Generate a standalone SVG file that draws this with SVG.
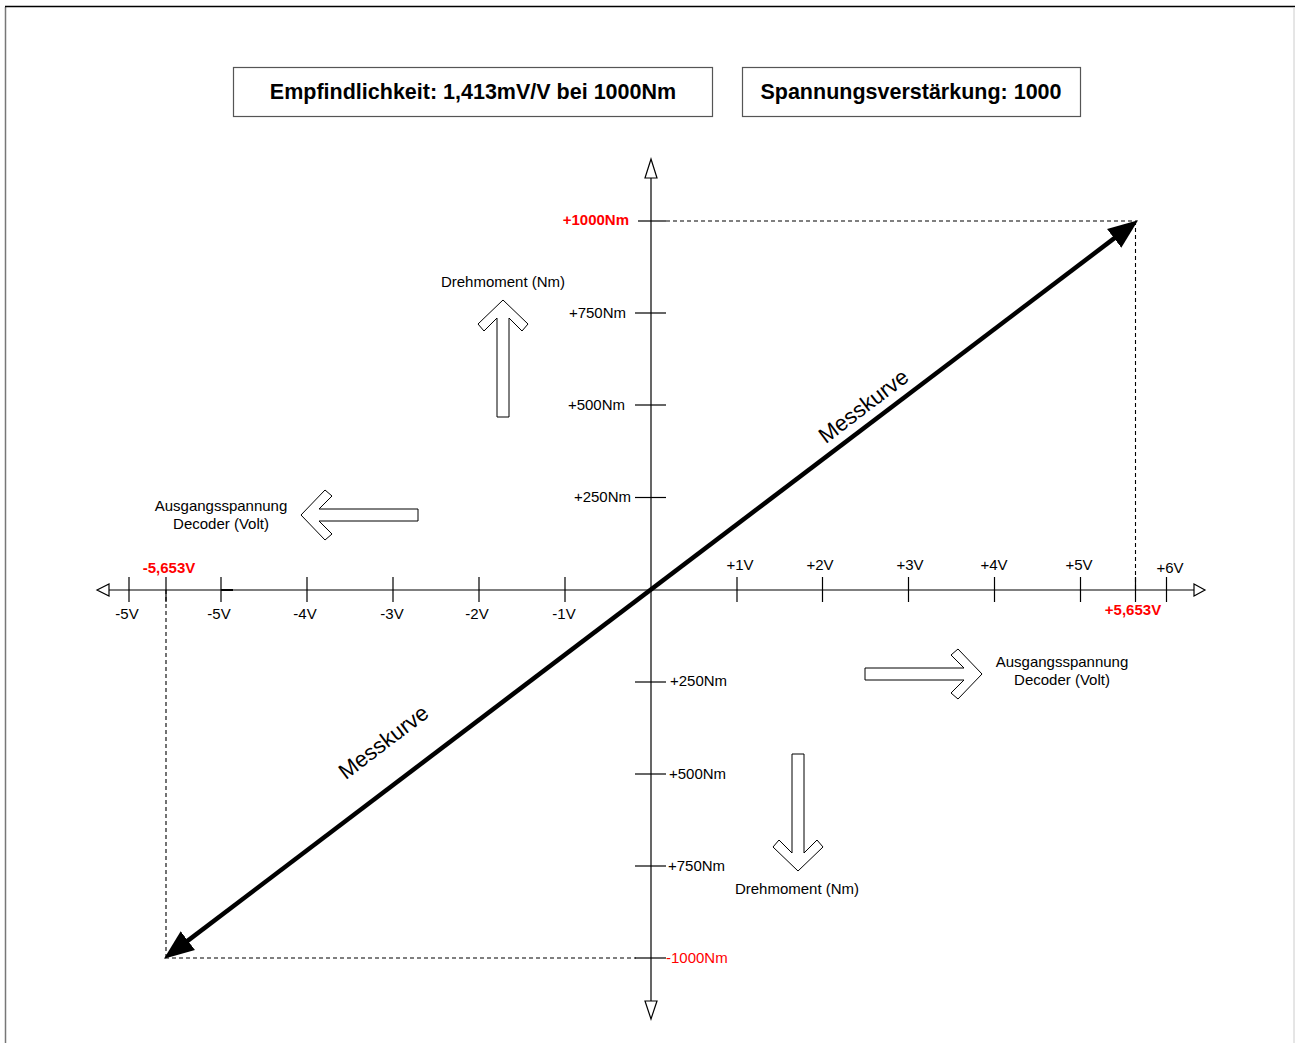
<svg xmlns="http://www.w3.org/2000/svg" width="1295" height="1043" viewBox="0 0 1295 1043">
<style>
text{font-family:"Liberation Sans",Arial,sans-serif;font-size:15px;fill:#000}
.b{font-weight:bold}
.red{fill:#ff0000}
.t{font-size:21.5px;font-weight:bold}
.mk{font-size:22px}
.ax{stroke:#000;stroke-width:1.2;fill:none}
.tk{stroke:#000;stroke-width:1.2}
.dash{stroke:#000;stroke-width:1.1;stroke-dasharray:4,3;fill:none}
.box{fill:#fff;stroke:#555;stroke-width:1.2}
.blk{fill:#fff;stroke:#000;stroke-width:1}
.oh{fill:#fff;stroke:#000;stroke-width:1.2}
</style>
<defs>
<path id="blockArrow" d="M0,0 L25,24 L19,31 L6,18 L6,117 L-6,117 L-6,18 L-19,31 L-25,24 Z"/>
<marker id="fh" markerUnits="userSpaceOnUse" markerWidth="30" markerHeight="24" viewBox="0 0 28 22" refX="10" refY="11" orient="auto-start-reverse">
<path d="M0,0 L28,11 L0,22 Z" fill="#000"/>
</marker>
</defs>
<rect x="0" y="0" width="1295" height="1043" fill="#fff"/>
<g id="frame">
<line x1="5.5" y1="7" x2="5.5" y2="1043" stroke="#777" stroke-width="1.5"/>
<line x1="5" y1="6.5" x2="1295" y2="6.5" stroke="#000" stroke-width="1.5"/>
<line x1="1294" y1="7" x2="1294" y2="1043" stroke="#ccc" stroke-width="1"/>
</g>
<g id="box-empfindlichkeit">
<rect class="box" x="233.5" y="67.5" width="479" height="49"/>
<text class="t" x="473" y="99" text-anchor="middle">Empfindlichkeit: 1,413mV/V bei 1000Nm</text>
</g>
<g id="box-verstaerkung">
<rect class="box" x="742.5" y="67.5" width="338" height="49"/>
<text class="t" x="911" y="99" text-anchor="middle">Spannungsverstärkung: 1000</text>
</g>
<g id="connectors">
<line class="dash" x1="666" y1="221" x2="1137" y2="221"/>
<line class="dash" x1="1135.5" y1="221" x2="1135.5" y2="590"/>
<line class="dash" x1="165" y1="958" x2="636" y2="958"/>
<line class="dash" x1="166" y1="590" x2="166" y2="958"/>
<line class="ax" x1="651" y1="178" x2="651" y2="1001"/>
<line class="ax" x1="109" y1="590" x2="1194" y2="590"/>
<line x1="221" y1="590" x2="233" y2="590" stroke="#000" stroke-width="2"/>
<polygon class="oh" points="651,159 657,178 645,178"/>
<polygon class="oh" points="651,1019 657,1001 645,1001"/>
<polygon class="oh" points="97,590 109,584 109,596"/>
<polygon class="oh" points="1205,590 1194,584 1194,596"/>
<g class="tk">
<line x1="129" y1="577" x2="129" y2="602"/>
<line x1="166" y1="577" x2="166" y2="602"/>
<line x1="221" y1="577" x2="221" y2="602"/>
<line x1="307" y1="577" x2="307" y2="602"/>
<line x1="393" y1="577" x2="393" y2="602"/>
<line x1="479" y1="577" x2="479" y2="602"/>
<line x1="565" y1="577" x2="565" y2="602"/>
<line x1="737" y1="577" x2="737" y2="602"/>
<line x1="822.5" y1="577" x2="822.5" y2="602"/>
<line x1="908.5" y1="577" x2="908.5" y2="602"/>
<line x1="994.5" y1="577" x2="994.5" y2="602"/>
<line x1="1080.5" y1="577" x2="1080.5" y2="602"/>
<line x1="1135.5" y1="577" x2="1135.5" y2="602"/>
<line x1="1166.5" y1="577" x2="1166.5" y2="602"/>
<line x1="638" y1="221" x2="666" y2="221"/>
<line x1="635" y1="313" x2="666" y2="313"/>
<line x1="635" y1="405" x2="666" y2="405"/>
<line x1="635" y1="497.5" x2="666" y2="497.5"/>
<line x1="635" y1="682" x2="666" y2="682"/>
<line x1="635" y1="774" x2="666" y2="774"/>
<line x1="635" y1="866" x2="666" y2="866"/>
<line x1="635" y1="958" x2="666" y2="958"/>
</g>
<line id="messkurve-line" x1="179.3" y1="947.1" x2="1122.7" y2="231.9" stroke="#000" stroke-width="4.5" marker-start="url(#fh)" marker-end="url(#fh)"/>
</g>
<g id="axis-labels">
<text class="b red" x="629" y="225" text-anchor="end">+1000Nm</text>
<text x="626" y="318" text-anchor="end">+750Nm</text>
<text x="625" y="410" text-anchor="end">+500Nm</text>
<text x="631" y="502" text-anchor="end">+250Nm</text>
<text x="670" y="686">+250Nm</text>
<text x="669" y="779">+500Nm</text>
<text x="668" y="871">+750Nm</text>
<text class="red" x="666" y="963">-1000Nm</text>
<text x="127" y="619" text-anchor="middle">-5V</text>
<text x="219" y="619" text-anchor="middle">-5V</text>
<text x="305" y="619" text-anchor="middle">-4V</text>
<text x="392" y="619" text-anchor="middle">-3V</text>
<text x="477" y="619" text-anchor="middle">-2V</text>
<text x="564" y="619" text-anchor="middle">-1V</text>
<text x="740" y="570" text-anchor="middle">+1V</text>
<text x="820" y="570" text-anchor="middle">+2V</text>
<text x="910" y="570" text-anchor="middle">+3V</text>
<text x="994" y="570" text-anchor="middle">+4V</text>
<text x="1079" y="570" text-anchor="middle">+5V</text>
<text x="1170" y="573" text-anchor="middle">+6V</text>
<text class="b red" x="169" y="573" text-anchor="middle">-5,653V</text>
<text class="b red" x="1133" y="615" text-anchor="middle">+5,653V</text>
</g>
<g id="messkurve-labels">
<text class="mk" text-anchor="middle" transform="translate(868,412) rotate(-37.2)">Messkurve</text>
<text class="mk" text-anchor="middle" transform="translate(388,748) rotate(-37.2)">Messkurve</text>
</g>
<g id="arrow-drehmoment-up">
<use href="#blockArrow" class="blk" transform="translate(503,300)"/>
<text x="503" y="287" text-anchor="middle">Drehmoment (Nm)</text>
</g>
<g id="arrow-drehmoment-down">
<use href="#blockArrow" class="blk" transform="translate(798,871) rotate(180)"/>
<text x="797" y="894" text-anchor="middle">Drehmoment (Nm)</text>
</g>
<g id="arrow-spannung-left">
<use href="#blockArrow" class="blk" transform="translate(301,515) rotate(-90)"/>
<text x="221" y="511" text-anchor="middle">Ausgangsspannung</text>
<text x="221" y="529" text-anchor="middle">Decoder (Volt)</text>
</g>
<g id="arrow-spannung-right">
<use href="#blockArrow" class="blk" transform="translate(982,674) rotate(90)"/>
<text x="1062" y="667" text-anchor="middle">Ausgangsspannung</text>
<text x="1062" y="685" text-anchor="middle">Decoder (Volt)</text>
</g>
</svg>
